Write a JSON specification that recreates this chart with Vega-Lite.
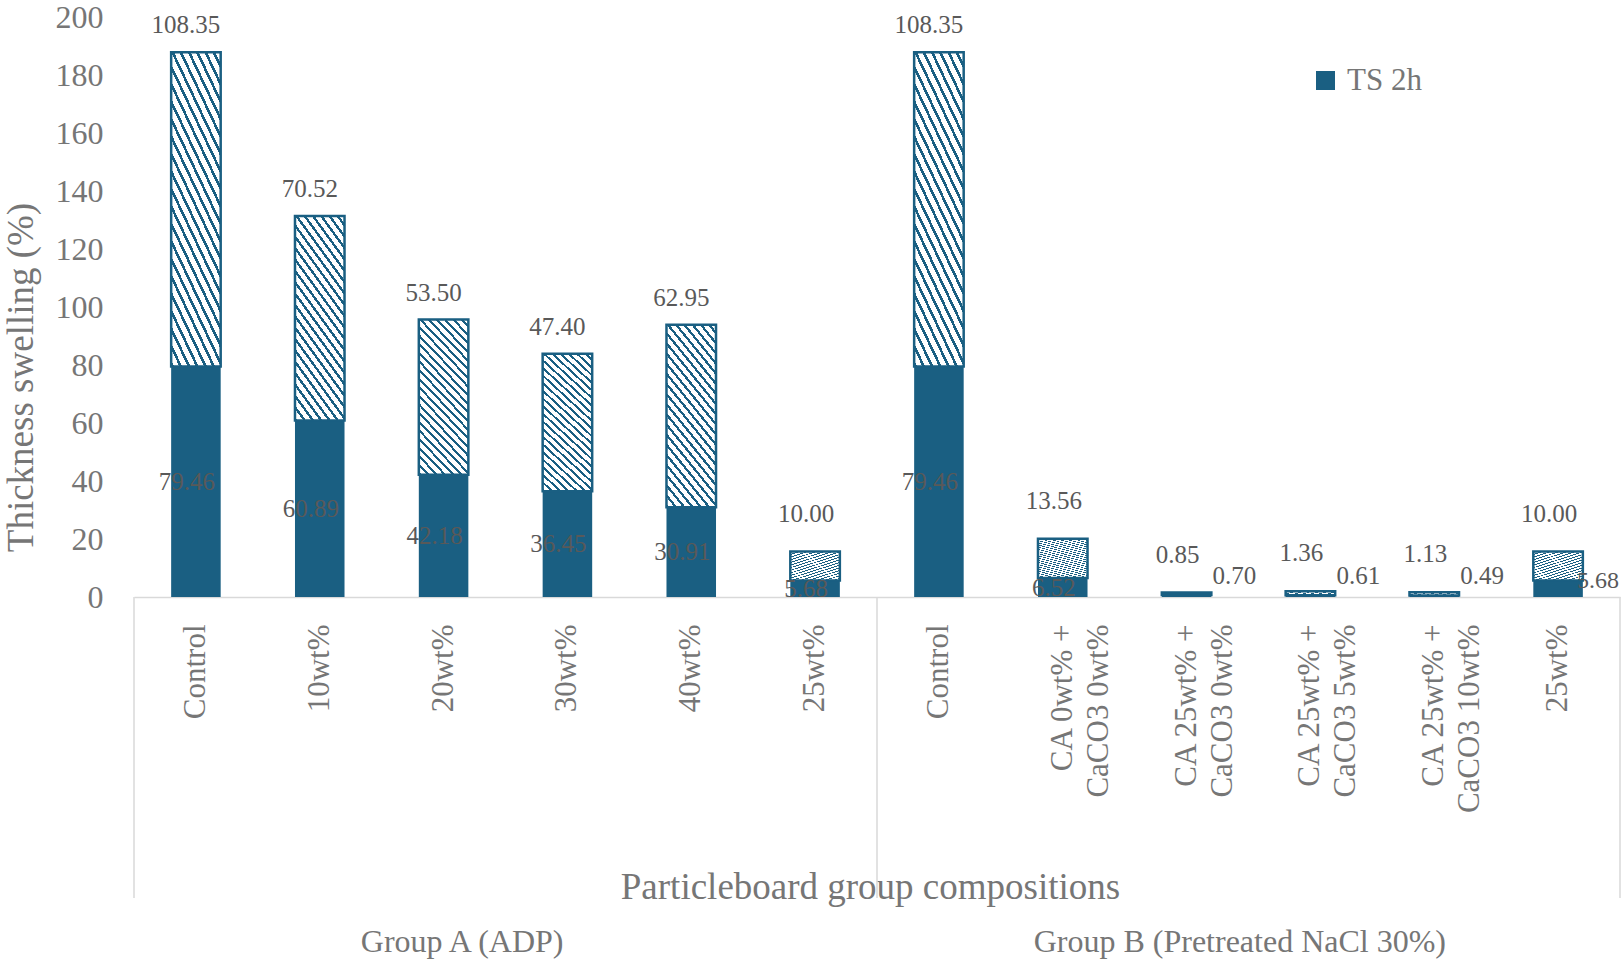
{
  "$schema": "https://vega.github.io/schema/vega-lite/v6.json",
  "width": 1486,
  "height": 580,
  "autosize": "none",
  "padding": {"left": 134, "top": 17, "right": 3, "bottom": 362},
  "background": "white",
  "config": {
    "font": "Liberation Serif",
    "view": {"stroke": null},
    "text": {"font": "Liberation Serif"}
  },
  "datasets": {
    "bars": [
      {"key": "A|Control", "group": "A", "series": "TS 2h", "value": 79.46},
      {"key": "A|Control", "group": "A", "series": "TS 24h", "value": 108.35},
      {"key": "A|10wt%", "group": "A", "series": "TS 2h", "value": 60.89},
      {"key": "A|10wt%", "group": "A", "series": "TS 24h", "value": 70.52},
      {"key": "A|20wt%", "group": "A", "series": "TS 2h", "value": 42.18},
      {"key": "A|20wt%", "group": "A", "series": "TS 24h", "value": 53.50},
      {"key": "A|30wt%", "group": "A", "series": "TS 2h", "value": 36.45},
      {"key": "A|30wt%", "group": "A", "series": "TS 24h", "value": 47.40},
      {"key": "A|40wt%", "group": "A", "series": "TS 2h", "value": 30.91},
      {"key": "A|40wt%", "group": "A", "series": "TS 24h", "value": 62.95},
      {"key": "A|25wt%", "group": "A", "series": "TS 2h", "value": 5.68},
      {"key": "A|25wt%", "group": "A", "series": "TS 24h", "value": 10.00},
      {"key": "B|Control", "group": "B", "series": "TS 2h", "value": 79.46},
      {"key": "B|Control", "group": "B", "series": "TS 24h", "value": 108.35},
      {"key": "B|CA 0wt% +~CaCO3 0wt%", "group": "B", "series": "TS 2h", "value": 6.52},
      {"key": "B|CA 0wt% +~CaCO3 0wt%", "group": "B", "series": "TS 24h", "value": 13.56},
      {"key": "B|CA 25wt% +~CaCO3 0wt%", "group": "B", "series": "TS 2h", "value": 0.70},
      {"key": "B|CA 25wt% +~CaCO3 0wt%", "group": "B", "series": "TS 24h", "value": 0.85},
      {"key": "B|CA 25wt% +~CaCO3 5wt%", "group": "B", "series": "TS 2h", "value": 0.61},
      {"key": "B|CA 25wt% +~CaCO3 5wt%", "group": "B", "series": "TS 24h", "value": 1.36},
      {"key": "B|CA 25wt% +~CaCO3 10wt%", "group": "B", "series": "TS 2h", "value": 0.49},
      {"key": "B|CA 25wt% +~CaCO3 10wt%", "group": "B", "series": "TS 24h", "value": 1.13},
      {"key": "B|25wt%", "group": "B", "series": "TS 2h", "value": 5.68},
      {"key": "B|25wt%", "group": "B", "series": "TS 24h", "value": 10.00}
    ],
    "edgesLeft": [{"key": "A|Control"}, {"key": "B|Control"}],
    "edgesRight": [{"key": "B|25wt%"}],
    "groupA": [{"key": "A|20wt%", "label": "Group A (ADP)"}],
    "groupB": [{"key": "B|CA 25wt% +~CaCO3 0wt%", "label": "Group B (Pretreated NaCl 30%)"}]
  },
  "encoding": {
    "x": {
      "field": "key",
      "type": "nominal",
      "scale": {
        "domain": ["A|Control", "A|10wt%", "A|20wt%", "A|30wt%", "A|40wt%", "A|25wt%", "B|Control", "B|CA 0wt% +~CaCO3 0wt%", "B|CA 25wt% +~CaCO3 0wt%", "B|CA 25wt% +~CaCO3 5wt%", "B|CA 25wt% +~CaCO3 10wt%", "B|25wt%"],
        "paddingInner": 0,
        "paddingOuter": 0
      },
      "axis": {
        "title": "Particleboard group compositions",
        "titleFont": "Liberation Serif",
        "titleFontSize": 37,
        "titleFontWeight": "normal",
        "titleColor": "#767676",
        "titleX": 736,
        "titleY": 290,
        "titleAlign": "center",
        "titleBaseline": "middle",
        "labelExpr": "split(substring(datum.value, 2), '~')",
        "labelAngle": -90,
        "labelAlign": "right",
        "labelBaseline": "middle",
        "labelFont": "Liberation Serif",
        "labelFontSize": 31,
        "labelColor": "#767676",
        "labelLineHeight": 36,
        "labelPadding": 27,
        "labelLimit": 400,
        "ticks": false,
        "domain": true,
        "domainColor": "#d9d9d9",
        "domainWidth": 1.5,
        "grid": false
      }
    }
  },
  "layer": [
    {
      "data": {"name": "bars"},
      "transform": [
        {"stack": "value", "groupby": ["key"], "sort": [{"field": "series", "order": "descending"}], "as": ["y0", "y1"]},
        {"filter": "datum.series === 'TS 2h'"}
      ],
      "mark": {"type": "bar", "width": {"band": 0.4}},
      "encoding": {
        "y": {
          "field": "y1",
          "type": "quantitative",
          "scale": {"domain": [0, 200], "nice": false},
          "axis": {
            "title": "Thickness swelling (%)",
            "titleFont": "Liberation Serif",
            "titleFontSize": 37,
            "titleFontWeight": "normal",
            "titleColor": "#767676",
            "titleX": -113,
            "titleY": 360,
            "titleAngle": -90,
            "titleAlign": "center",
            "titleBaseline": "middle",
            "values": [0, 20, 40, 60, 80, 100, 120, 140, 160, 180, 200],
            "labelFont": "Liberation Serif",
            "labelFontSize": 32,
            "labelColor": "#767676",
            "labelPadding": 31,
            "ticks": false,
            "domain": false,
            "grid": false
          }
        },
        "y2": {"field": "y0"},
        "color": {
          "field": "series",
          "type": "nominal",
          "scale": {"domain": ["TS 2h"], "range": ["#1a5f82"]},
          "legend": {
            "title": null,
            "orient": "none",
            "legendX": 1176,
            "legendY": 48,
            "padding": 0,
            "symbolType": "square",
            "symbolSize": 361,
            "symbolStrokeWidth": 0,
            "labelFont": "Liberation Serif",
            "labelFontSize": 31,
            "labelColor": "#767676",
            "labelOffset": 6
          }
        }
      }
    },
    {
      "data": {"name": "bars"},
      "transform": [
        {"stack": "value", "groupby": ["key"], "sort": [{"field": "series", "order": "descending"}], "as": ["y0", "y1"]},
        {"filter": "datum.series === 'TS 24h'"}
      ],
      "mark": {
        "type": "bar",
        "width": {"band": 0.4},
        "stroke": "#1a5f82",
        "strokeWidth": 2.5,
        "fill": {
          "gradient": "linear",
          "x1": 0, "y1": 1, "x2": 0.4, "y2": -0.2,
          "stops": [
            {"offset": 0, "color": "#1a5f82"}, {"offset": 0.0146, "color": "#1a5f82"}, {"offset": 0.0146, "color": "#ffffff"}, {"offset": 0.0417, "color": "#ffffff"},
            {"offset": 0.0417, "color": "#1a5f82"}, {"offset": 0.0563, "color": "#1a5f82"}, {"offset": 0.0563, "color": "#ffffff"}, {"offset": 0.0833, "color": "#ffffff"},
            {"offset": 0.0833, "color": "#1a5f82"}, {"offset": 0.0979, "color": "#1a5f82"}, {"offset": 0.0979, "color": "#ffffff"}, {"offset": 0.125, "color": "#ffffff"},
            {"offset": 0.125, "color": "#1a5f82"}, {"offset": 0.1396, "color": "#1a5f82"}, {"offset": 0.1396, "color": "#ffffff"}, {"offset": 0.1667, "color": "#ffffff"},
            {"offset": 0.1667, "color": "#1a5f82"}, {"offset": 0.1813, "color": "#1a5f82"}, {"offset": 0.1813, "color": "#ffffff"}, {"offset": 0.2083, "color": "#ffffff"},
            {"offset": 0.2083, "color": "#1a5f82"}, {"offset": 0.2229, "color": "#1a5f82"}, {"offset": 0.2229, "color": "#ffffff"}, {"offset": 0.25, "color": "#ffffff"},
            {"offset": 0.25, "color": "#1a5f82"}, {"offset": 0.2646, "color": "#1a5f82"}, {"offset": 0.2646, "color": "#ffffff"}, {"offset": 0.2917, "color": "#ffffff"},
            {"offset": 0.2917, "color": "#1a5f82"}, {"offset": 0.3063, "color": "#1a5f82"}, {"offset": 0.3063, "color": "#ffffff"}, {"offset": 0.3333, "color": "#ffffff"},
            {"offset": 0.3333, "color": "#1a5f82"}, {"offset": 0.3479, "color": "#1a5f82"}, {"offset": 0.3479, "color": "#ffffff"}, {"offset": 0.375, "color": "#ffffff"},
            {"offset": 0.375, "color": "#1a5f82"}, {"offset": 0.3896, "color": "#1a5f82"}, {"offset": 0.3896, "color": "#ffffff"}, {"offset": 0.4167, "color": "#ffffff"},
            {"offset": 0.4167, "color": "#1a5f82"}, {"offset": 0.4313, "color": "#1a5f82"}, {"offset": 0.4313, "color": "#ffffff"}, {"offset": 0.4583, "color": "#ffffff"},
            {"offset": 0.4583, "color": "#1a5f82"}, {"offset": 0.4729, "color": "#1a5f82"}, {"offset": 0.4729, "color": "#ffffff"}, {"offset": 0.5, "color": "#ffffff"},
            {"offset": 0.5, "color": "#1a5f82"}, {"offset": 0.5146, "color": "#1a5f82"}, {"offset": 0.5146, "color": "#ffffff"}, {"offset": 0.5417, "color": "#ffffff"},
            {"offset": 0.5417, "color": "#1a5f82"}, {"offset": 0.5563, "color": "#1a5f82"}, {"offset": 0.5563, "color": "#ffffff"}, {"offset": 0.5833, "color": "#ffffff"},
            {"offset": 0.5833, "color": "#1a5f82"}, {"offset": 0.5979, "color": "#1a5f82"}, {"offset": 0.5979, "color": "#ffffff"}, {"offset": 0.625, "color": "#ffffff"},
            {"offset": 0.625, "color": "#1a5f82"}, {"offset": 0.6396, "color": "#1a5f82"}, {"offset": 0.6396, "color": "#ffffff"}, {"offset": 0.6667, "color": "#ffffff"},
            {"offset": 0.6667, "color": "#1a5f82"}, {"offset": 0.6813, "color": "#1a5f82"}, {"offset": 0.6813, "color": "#ffffff"}, {"offset": 0.7083, "color": "#ffffff"},
            {"offset": 0.7083, "color": "#1a5f82"}, {"offset": 0.7229, "color": "#1a5f82"}, {"offset": 0.7229, "color": "#ffffff"}, {"offset": 0.75, "color": "#ffffff"},
            {"offset": 0.75, "color": "#1a5f82"}, {"offset": 0.7646, "color": "#1a5f82"}, {"offset": 0.7646, "color": "#ffffff"}, {"offset": 0.7917, "color": "#ffffff"},
            {"offset": 0.7917, "color": "#1a5f82"}, {"offset": 0.8063, "color": "#1a5f82"}, {"offset": 0.8063, "color": "#ffffff"}, {"offset": 0.8333, "color": "#ffffff"},
            {"offset": 0.8333, "color": "#1a5f82"}, {"offset": 0.8479, "color": "#1a5f82"}, {"offset": 0.8479, "color": "#ffffff"}, {"offset": 0.875, "color": "#ffffff"},
            {"offset": 0.875, "color": "#1a5f82"}, {"offset": 0.8896, "color": "#1a5f82"}, {"offset": 0.8896, "color": "#ffffff"}, {"offset": 0.9167, "color": "#ffffff"},
            {"offset": 0.9167, "color": "#1a5f82"}, {"offset": 0.9313, "color": "#1a5f82"}, {"offset": 0.9313, "color": "#ffffff"}, {"offset": 0.9583, "color": "#ffffff"},
            {"offset": 0.9583, "color": "#1a5f82"}, {"offset": 0.9729, "color": "#1a5f82"}, {"offset": 0.9729, "color": "#ffffff"}, {"offset": 1, "color": "#ffffff"}
          ]
        }
      },
      "encoding": {
        "y": {"field": "y1", "type": "quantitative", "scale": {"domain": [0, 200], "nice": false}},
        "y2": {"field": "y0"}
      }
    },
    {
      "data": {"name": "bars"},
      "transform": [
        {"stack": "value", "groupby": ["key"], "sort": [{"field": "series", "order": "descending"}], "as": ["y0", "y1"]},
        {"filter": "datum.series === 'TS 24h' && datum.y1 > 25"}
      ],
      "mark": {"type": "text", "fontSize": 25, "color": "#595959", "baseline": "middle", "align": "center", "dy": -27, "dx": -10},
      "encoding": {
        "y": {"field": "y1", "type": "quantitative", "scale": {"domain": [0, 200], "nice": false}},
        "text": {"field": "value", "type": "quantitative", "format": ".2f"}
      }
    },
    {
      "data": {"name": "bars"},
      "transform": [
        {"stack": "value", "groupby": ["key"], "sort": [{"field": "series", "order": "descending"}], "as": ["y0", "y1"]},
        {"filter": "datum.series === 'TS 24h' && datum.y1 <= 25"}
      ],
      "mark": {"type": "text", "fontSize": 25, "color": "#595959", "baseline": "middle", "align": "center", "dy": -38, "dx": -9},
      "encoding": {
        "y": {"field": "y1", "type": "quantitative", "scale": {"domain": [0, 200], "nice": false}},
        "text": {"field": "value", "type": "quantitative", "format": ".2f"}
      }
    },
    {
      "data": {"name": "bars"},
      "transform": [
        {"stack": "value", "groupby": ["key"], "sort": [{"field": "series", "order": "descending"}], "as": ["y0", "y1"]},
        {"filter": "datum.series === 'TS 2h' && !(datum.group === 'B' && datum.value < 6)"},
        {"fold": ["y0", "y1"], "as": ["edge", "pos"]},
        {"aggregate": [{"op": "mean", "field": "pos", "as": "mid"}], "groupby": ["key", "value"]}
      ],
      "mark": {"type": "text", "fontSize": 25, "color": "#595959", "baseline": "middle", "align": "center", "dx": -9},
      "encoding": {
        "y": {"field": "mid", "type": "quantitative", "scale": {"domain": [0, 200], "nice": false}},
        "text": {"field": "value", "type": "quantitative", "format": ".2f"}
      }
    },
    {
      "data": {"name": "bars"},
      "transform": [
        {"stack": "value", "groupby": ["key"], "sort": [{"field": "series", "order": "descending"}], "as": ["y0", "y1"]},
        {"filter": "datum.series === 'TS 2h' && datum.group === 'B' && datum.value < 1"},
        {"fold": ["y0", "y1"], "as": ["edge", "pos"]},
        {"aggregate": [{"op": "mean", "field": "pos", "as": "mid"}], "groupby": ["key", "value"]}
      ],
      "mark": {"type": "text", "fontSize": 25, "color": "#595959", "baseline": "middle", "align": "left", "dx": 26, "dy": -20},
      "encoding": {
        "y": {"field": "mid", "type": "quantitative", "scale": {"domain": [0, 200], "nice": false}},
        "text": {"field": "value", "type": "quantitative", "format": ".2f"}
      }
    },
    {
      "data": {"name": "bars"},
      "transform": [
        {"stack": "value", "groupby": ["key"], "sort": [{"field": "series", "order": "descending"}], "as": ["y0", "y1"]},
        {"filter": "datum.series === 'TS 2h' && datum.key === 'B|25wt%'"},
        {"fold": ["y0", "y1"], "as": ["edge", "pos"]},
        {"aggregate": [{"op": "mean", "field": "pos", "as": "mid"}], "groupby": ["key", "value"]}
      ],
      "mark": {"type": "text", "fontSize": 24, "color": "#595959", "baseline": "middle", "align": "left", "dx": 19, "dy": -8},
      "encoding": {
        "y": {"field": "mid", "type": "quantitative", "scale": {"domain": [0, 200], "nice": false}},
        "text": {"field": "value", "type": "quantitative", "format": ".2f"}
      }
    },
    {
      "data": {"name": "edgesLeft"},
      "mark": {"type": "rule", "color": "#d9d9d9", "strokeWidth": 1.5},
      "encoding": {
        "x": {"field": "key", "type": "nominal", "bandPosition": 0},
        "y": {"datum": 0, "type": "quantitative"},
        "y2": {"datum": -103.8}
      }
    },
    {
      "data": {"name": "edgesRight"},
      "mark": {"type": "rule", "color": "#d9d9d9", "strokeWidth": 1.5},
      "encoding": {
        "x": {"field": "key", "type": "nominal", "bandPosition": 1},
        "y": {"datum": 0, "type": "quantitative"},
        "y2": {"datum": -103.8}
      }
    },
    {
      "data": {"name": "groupA"},
      "mark": {"type": "text", "fontSize": 32, "color": "#767676", "baseline": "middle", "align": "center"},
      "encoding": {
        "x": {"field": "key", "type": "nominal", "bandPosition": 0.65},
        "y": {"datum": -119, "type": "quantitative"},
        "text": {"field": "label"}
      }
    },
    {
      "data": {"name": "groupB"},
      "mark": {"type": "text", "fontSize": 32, "color": "#767676", "baseline": "middle", "align": "center"},
      "encoding": {
        "x": {"field": "key", "type": "nominal", "bandPosition": 0.93},
        "y": {"datum": -119, "type": "quantitative"},
        "text": {"field": "label"}
      }
    }
  ]
}
